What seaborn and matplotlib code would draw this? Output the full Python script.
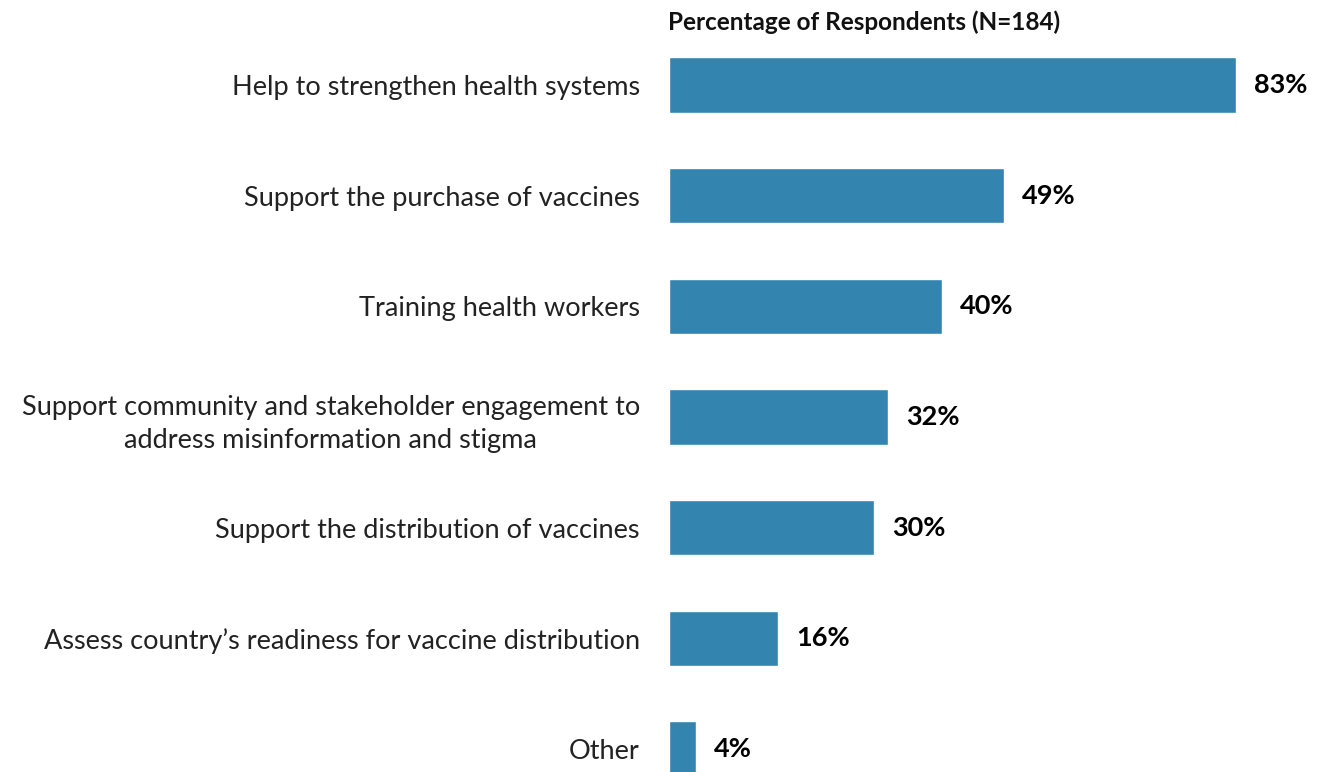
import matplotlib
matplotlib.use("Agg")
import matplotlib.pyplot as plt
import seaborn as sns
import pandas as pd

categories = [
    "Help to strengthen health systems",
    "Support the purchase of vaccines",
    "Training health workers",
    "Support community and stakeholder engagement to\naddress misinformation and stigma",
    "Support the distribution of vaccines",
    "Assess country\u2019s readiness for vaccine distribution",
    "Other",
]
values = [83, 49, 40, 32, 30, 16, 4]
title = "Percentage of Respondents (N=184)"

sns.set_theme(style="white")
plt.rcParams["font.family"] = ["Lato", "DejaVu Sans"]

df = pd.DataFrame({"cat": categories, "val": values})

W, H = 1320, 772
fig = plt.figure(figsize=(W / 100, H / 100), dpi=100)
left_px, right_px = 669, 1320
top_px, bottom_px = 29.6, 804.4
ax = fig.add_axes([left_px / W, 1 - bottom_px / H, (right_px - left_px) / W, (bottom_px - top_px) / H])

sns.barplot(data=df, x="val", y="cat", ax=ax, color="#3484B0", width=0.5, saturation=1, orient="h")

px_per_unit = (1236 - 669) / 83
ax.set_xlim(0, (right_px - left_px) / px_per_unit)
ax.set_ylim(len(categories) - 0.5, -0.5)

for i, v in enumerate(values):
    ax.annotate(f"{v}%", xy=(v, i), xytext=(13, 0), textcoords="offset points",
                ha="left", va="center", fontsize=19.5, fontweight="bold", color="#000000")

ax.set_xlabel("")
ax.set_ylabel("")
ax.set_xticks([])
ax.tick_params(axis="y", length=0, pad=21, labelsize=19.5, labelcolor="#222222")
for lbl in ax.get_yticklabels():
    lbl.set_multialignment("center")
    lbl.set_linespacing(1.4)
for s in ax.spines.values():
    s.set_visible(False)

fig.text(864 / W, 1 - 22 / H, title, ha="center", va="center", fontsize=17.5, fontweight="bold", color="#111111")

fig.savefig("out.png", dpi=100)
